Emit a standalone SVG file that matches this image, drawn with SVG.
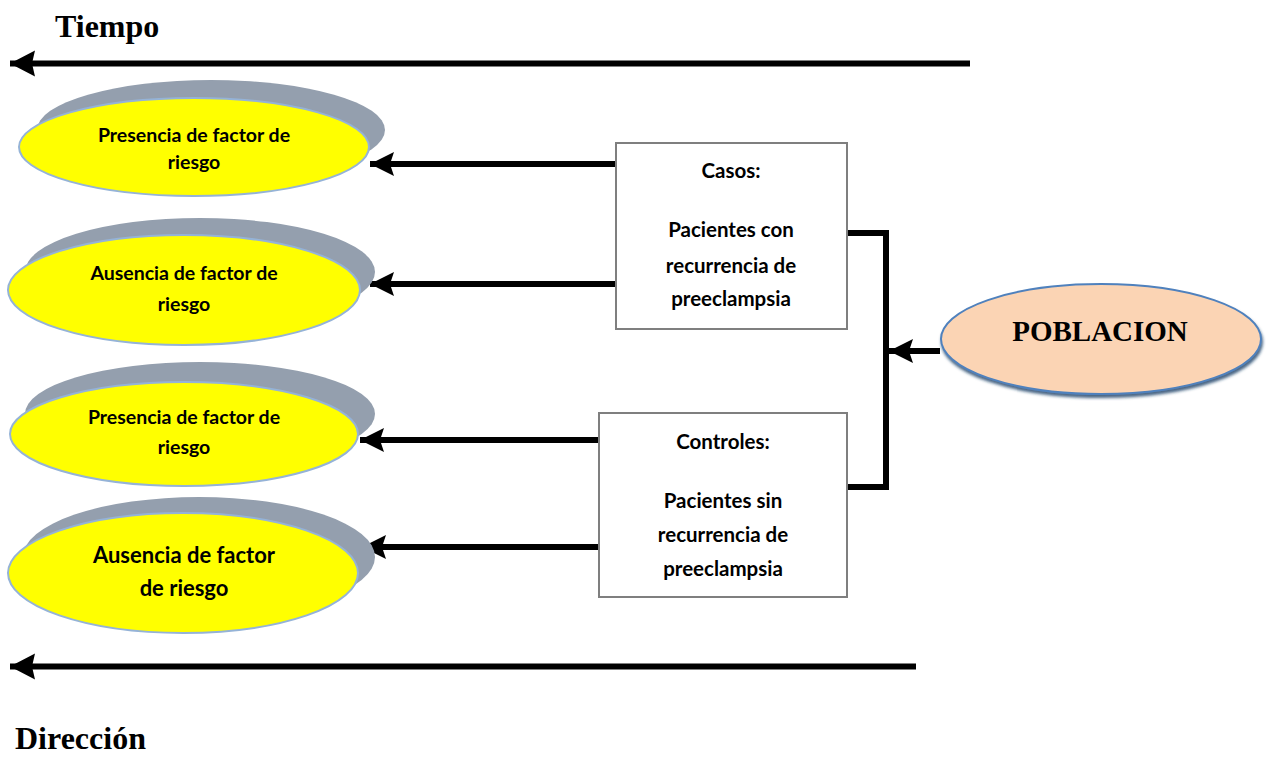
<svg xmlns="http://www.w3.org/2000/svg" width="1267" height="757" viewBox="0 0 1267 757">
<style>
.shadow{fill:#949fae}
.yel{fill:#ffff00;stroke:#95b3d7;stroke-width:2}
.box{fill:#ffffff;stroke:#7f7f7f;stroke-width:2}
.t{font-family:Lato,"Liberation Sans",sans-serif;font-weight:bold;fill:#000;text-anchor:middle}
.title{font-family:"Liberation Serif",serif;font-weight:bold;fill:#000;font-size:32px}
.conn{stroke:#000;stroke-width:6;fill:none}
</style>
<defs>
<marker id="ah" markerUnits="userSpaceOnUse" markerWidth="26" markerHeight="26" refX="24" refY="12" orient="auto">
<path d="M0,0 L24,12 L0,24 L4,12 z" fill="#000"/>
</marker>
<marker id="bigah" markerUnits="userSpaceOnUse" markerWidth="28" markerHeight="28" refX="25" refY="13" orient="auto">
<path d="M0,0 L25,13 L0,26 L3,13 z" fill="#000"/>
</marker>
<filter id="ds" x="-10%" y="-10%" width="120%" height="130%">
<feDropShadow dx="1" dy="3" stdDeviation="1.5" flood-color="#1f3c66" flood-opacity="0.8"/>
</filter>
</defs>

<text class="title" x="55" y="37">Tiempo</text>
<text class="title" x="15" y="749">Dirección</text>

<g id="connectors">
<line class="conn" x1="970" y1="63.5" x2="10" y2="63.5" stroke-width="7" marker-end="url(#bigah)"/>
<line class="conn" x1="916" y1="666.5" x2="10" y2="666.5" stroke-width="7" marker-end="url(#bigah)"/>
<line class="conn" x1="616" y1="164" x2="370" y2="164" marker-end="url(#ah)"/>
<line class="conn" x1="616" y1="284" x2="370" y2="284" marker-end="url(#ah)"/>
<line class="conn" x1="599" y1="440" x2="360" y2="440" marker-end="url(#ah)"/>
<line class="conn" x1="599" y1="547" x2="362" y2="547" marker-end="url(#ah)"/>
<polyline class="conn" points="847,233 886,233 886,487 847,487" stroke-width="5"/>
<line class="conn" x1="940" y1="351" x2="889" y2="351" stroke-width="5" marker-end="url(#ah)"/>
</g>

<g id="n1">
<ellipse class="shadow" cx="211" cy="130" rx="174" ry="50"/>
<ellipse class="yel" cx="194" cy="147" rx="175" ry="49"/>
<text class="t" x="194" y="142" font-size="19.5">Presencia de factor de</text>
<text class="t" x="194" y="169" font-size="19.5">riesgo</text>
</g>

<g id="n2">
<ellipse class="shadow" cx="200" cy="272" rx="175" ry="54"/>
<ellipse class="yel" cx="184" cy="290" rx="176" ry="55"/>
<text class="t" x="184" y="280" font-size="19.5">Ausencia de factor de</text>
<text class="t" x="184" y="311" font-size="19.5">riesgo</text>
</g>

<g id="n3">
<ellipse class="shadow" cx="200" cy="414" rx="175" ry="52"/>
<ellipse class="yel" cx="184" cy="434" rx="174" ry="52"/>
<text class="t" x="184" y="424" font-size="19.5">Presencia de factor de</text>
<text class="t" x="184" y="454" font-size="19.5">riesgo</text>
</g>

<g id="n4">
<ellipse class="shadow" cx="199" cy="557" rx="176" ry="60"/>
<ellipse class="yel" cx="183" cy="573" rx="175" ry="60"/>
<text class="t" x="184" y="563" font-size="22">Ausencia de factor</text>
<text class="t" x="184" y="596" font-size="22">de riesgo</text>
</g>

<g id="casos">
<rect class="box" x="616" y="143" width="231" height="186"/>
<text class="t" x="731" y="178" font-size="20.5">Casos:</text>
<text class="t" x="731" y="237" font-size="20.5">Pacientes con</text>
<text class="t" x="731" y="273" font-size="20.5">recurrencia de</text>
<text class="t" x="731" y="306" font-size="20.5">preeclampsia</text>
</g>

<g id="controles">
<rect class="box" x="599" y="413" width="248" height="184"/>
<text class="t" x="723" y="449" font-size="20.5">Controles:</text>
<text class="t" x="723" y="508" font-size="20.5">Pacientes sin</text>
<text class="t" x="723" y="542" font-size="20.5">recurrencia de</text>
<text class="t" x="723" y="576" font-size="20.5">preeclampsia</text>
</g>

<g id="poblacion">
<ellipse cx="1101" cy="339" rx="160" ry="55" fill="#fbd4b4" stroke="#4f81bd" stroke-width="2" filter="url(#ds)"/>
<text x="1100" y="341" font-family="Liberation Serif,serif" font-weight="bold" font-size="29" text-anchor="middle">POBLACION</text>
</g>
</svg>
